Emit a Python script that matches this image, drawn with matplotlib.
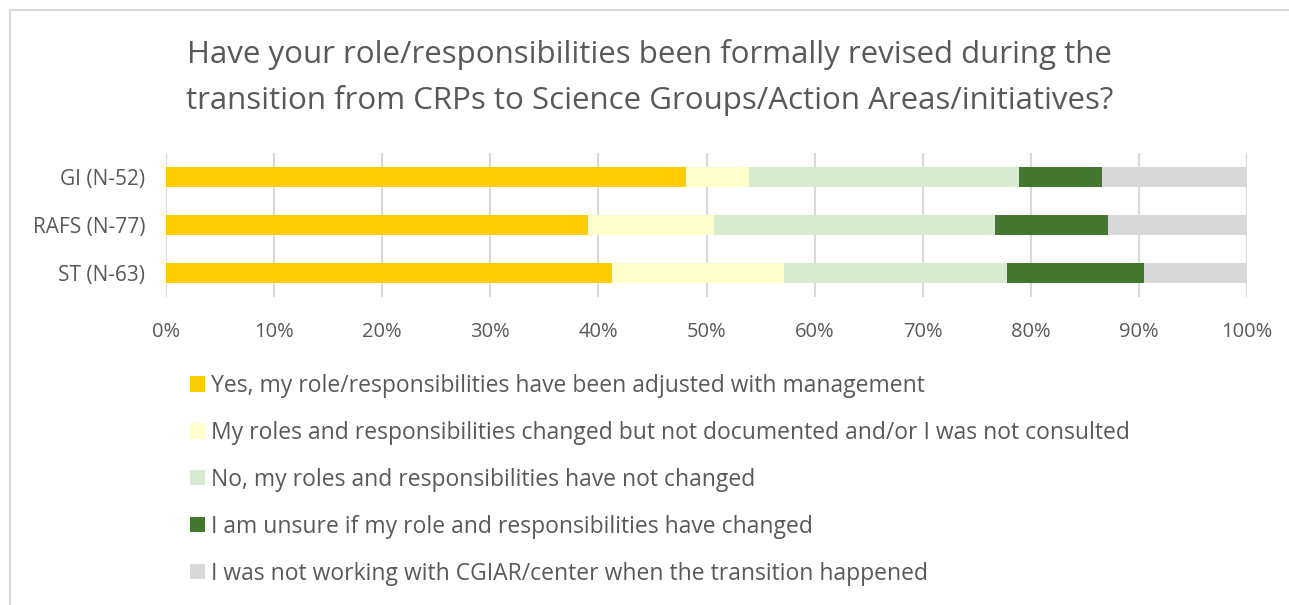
import numpy as np
import matplotlib.pyplot as plt
from matplotlib.patches import Rectangle, Patch

# ---- data (percent of respondents) ----
groups = ["GI (N-52)", "RAFS (N-77)", "ST (N-63)"]
answers = [
    "Yes, my role/responsibilities have been adjusted with management",
    "My roles and responsibilities changed but not documented and/or I was not consulted",
    "No, my roles and responsibilities have not changed",
    "I am unsure if my role and responsibilities have changed",
    "I was not working with CGIAR/center when the transition happened",
]
yes_adjusted = [48.1, 39.0, 41.3]
changed_undoc = [5.8, 11.7, 15.9]
not_changed = [25.0, 26.0, 20.6]
unsure = [7.7, 10.4, 12.7]
not_working = [13.5, 13.0, 9.5]
series = [yes_adjusted, changed_undoc, not_changed, unsure, not_working]
colors = ["#FFCC00", "#FFFFCC", "#D9EAD3", "#43762F", "#D9D9D9"]
ticks = np.arange(0, 101, 10)

txt = "#595959"
plt.rcParams['font.family'] = ['Open Sans', 'DejaVu Sans']

W, H = 1289, 605
fig = plt.figure(figsize=(W / 100, H / 100), dpi=100)

# outer chart frame (cut off on right and bottom like the screenshot)
fig.patches.append(Rectangle((10 / W, -0.1), 1.1, 1 - 10 / H + 0.1,
                             transform=fig.transFigure, fill=False,
                             edgecolor="#D9D9D9", linewidth=1.5))

ax = fig.add_axes([166 / W, 1 - 297 / H, (1247 - 166) / W, (297 - 153) / H])
y = np.arange(len(groups))
left = np.zeros(len(groups))
for vals, c, lab in zip(series, colors, answers):
    ax.barh(y, vals, left=left, height=0.42, color=c, label=lab, linewidth=0, zorder=2)
    left += np.array(vals)

ax.set_xlim(0, 100)
ax.set_ylim(2.5, -0.5)
ax.set_yticks(y)
ax.set_yticklabels(groups)
ax.set_xticks(ticks)
ax.set_xticklabels([f"{t}%" for t in ticks])
ax.grid(axis="x", color="#D9D9D9", linewidth=1.5, zorder=0)
for s in ax.spines.values():
    s.set_visible(False)
ax.tick_params(length=0, labelsize=14.5, colors=txt)
ax.tick_params(axis="x", pad=18)
ax.tick_params(axis="y", pad=15, labelsize=15)

fig.text(0.5 + 10 / W / 2, 1 - 55 / H,
         "Have your role/responsibilities been formally revised during the",
         ha="center", va="center", fontsize=22.5, color=txt)
fig.text(0.5 + 10 / W / 2, 1 - 100 / H,
         "transition from CRPs to Science Groups/Action Areas/initiatives?",
         ha="center", va="center", fontsize=22.5, color=txt)

handles = [Patch(facecolor=c, edgecolor="none") for c in colors]
fig.legend(handles, answers, loc="upper left", bbox_to_anchor=(190 / W, 1 - 374 / H),
           frameon=False, fontsize=16.5, labelcolor=txt, handlelength=0.65,
           handleheight=0.65, handletextpad=0.25, labelspacing=1.0, borderpad=0,
           borderaxespad=0)

fig.savefig("out.png", dpi=100)
